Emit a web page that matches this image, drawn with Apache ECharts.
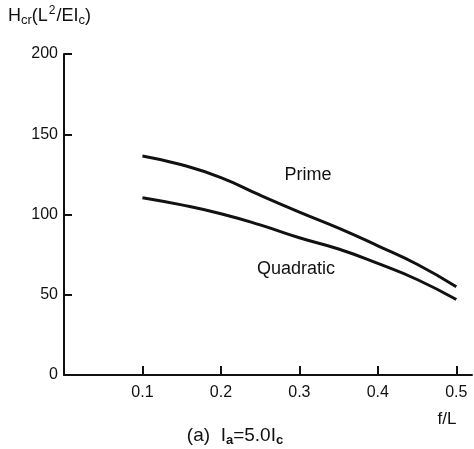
<!DOCTYPE html>
<html>
<head>
<meta charset="utf-8">
<script src="https://cdn.jsdelivr.net/npm/echarts@6/dist/echarts.min.js"></script>
<style>
  html, body { margin: 0; padding: 0; background: #fff; }
  #chart { width: 474px; height: 449px; }
</style>
</head>
<body>
<div id="chart"></div>
<script>
// f/L values where the curves were read
const fRatio = [0.1, 0.15, 0.2, 0.25, 0.3, 0.35, 0.4, 0.45, 0.5];
// H_cr (L^2/EI_c)
const primeValues = [136.5, 131, 123, 112, 101.5, 91.5, 80.5, 69, 55];
const quadraticValues = [110.5, 106, 100.5, 93.5, 85.5, 78.5, 69.5, 59.5, 47];
const yTicks = [0, 50, 100, 150, 200];

const font = 'Liberation Sans, Arial, sans-serif';
const ink = '#111';

const pairs = vals => fRatio.map((f, i) => [f, vals[i]]);

const chart = echarts.init(document.getElementById('chart'));

chart.setOption({
  animation: false,
  grid: { left: 64, top: 54, width: 408, height: 321 },
  xAxis: {
    type: 'value',
    min: 0,
    max: 0.52,
    interval: 0.1,
    splitLine: { show: false },
    axisLine: { lineStyle: { color: ink, width: 2 } },
    axisTick: { inside: true, length: 9, lineStyle: { color: ink, width: 2 } },
    axisLabel: {
      color: ink, fontFamily: font, fontSize: 16, margin: 10,
      showMaxLabel: false,
      formatter: v => (v === 0 ? '' : v.toFixed(1))
    }
  },
  yAxis: {
    type: 'value',
    min: yTicks[0],
    max: yTicks[yTicks.length - 1],
    interval: 50,
    splitLine: { show: false },
    axisLine: { lineStyle: { color: ink, width: 2 } },
    axisTick: { inside: true, length: 8, lineStyle: { color: ink, width: 2 } },
    axisLabel: { color: ink, fontFamily: font, fontSize: 16, margin: 6 }
  },
  series: [
    {
      name: 'Prime',
      type: 'line',
      smooth: true,
      symbol: 'none',
      lineStyle: { color: ink, width: 3 },
      data: pairs(primeValues)
    },
    {
      name: 'Quadratic',
      type: 'line',
      smooth: true,
      symbol: 'none',
      lineStyle: { color: ink, width: 3 },
      data: pairs(quadraticValues)
    }
  ],
  graphic: [
    {
      type: 'text', left: 8, top: 5,
      style: {
        text: 'H{s|cr}(L{p|2}/EI{s|c})',
        fill: ink, font: '18px ' + font, lineHeight: 22,
        rich: {
          s: { fontSize: 13, fontFamily: font, fill: ink, verticalAlign: 'bottom', lineHeight: 16, padding: [7, 0, 0, 0] },
          p: { fontSize: 12, fontFamily: font, fill: ink, verticalAlign: 'top', lineHeight: 14, padding: [0, 1, 6, 1] }
        }
      }
    },
    { type: 'text', x: 308, y: 175, style: { text: 'Prime', fill: ink, font: '18px ' + font, align: 'center', verticalAlign: 'middle' } },
    { type: 'text', x: 296, y: 269, style: { text: 'Quadratic', fill: ink, font: '18px ' + font, align: 'center', verticalAlign: 'middle' } },
    { type: 'text', x: 447, y: 419, style: { text: 'f/L', fill: ink, font: '17px ' + font, align: 'center', verticalAlign: 'middle' } },
    {
      type: 'text', x: 235, y: 436,
      style: {
        text: '(a)  I{s|a}=5.0I{s|c}',
        fill: ink, font: '19px ' + font, align: 'center', verticalAlign: 'middle', lineHeight: 22,
        rich: { s: { fontSize: 13, fontFamily: font, fill: ink, fontWeight: 'bold', verticalAlign: 'bottom', lineHeight: 16, padding: [7, 0, 0, 0] } }
      }
    }
  ]
});
</script>
</body>
</html>
